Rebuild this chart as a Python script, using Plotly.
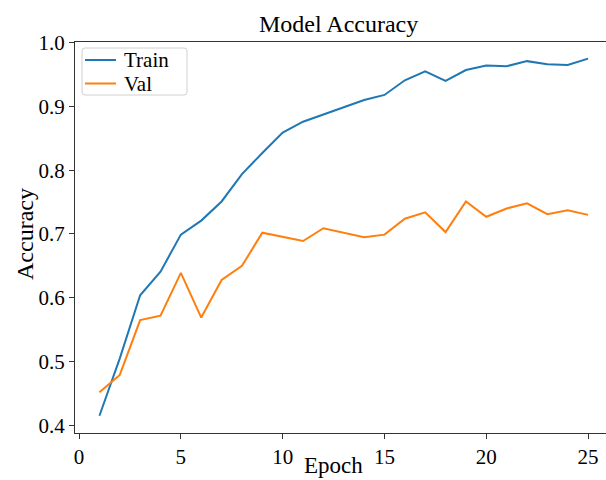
import plotly.graph_objects as go

epochs = list(range(1, 26))
train_acc = [0.415, 0.505, 0.604, 0.641, 0.699, 0.721, 0.751, 0.794, 0.827, 0.859,
             0.876, 0.887, 0.898, 0.910, 0.918, 0.941, 0.955, 0.940, 0.957, 0.964,
             0.963, 0.971, 0.966, 0.965, 0.975]
val_acc = [0.452, 0.479, 0.565, 0.572, 0.639, 0.569, 0.628, 0.650, 0.702, 0.695,
           0.689, 0.709, 0.702, 0.695, 0.699, 0.724, 0.734, 0.703, 0.751, 0.727,
           0.740, 0.748, 0.731, 0.737, 0.730]
series_names = ["Train", "Val"]
series_colors = ["#1f77b4", "#ff7f0e"]
x_ticks = [0, 5, 10, 15, 20, 25]
y_ticks = [0.4, 0.5, 0.6, 0.7, 0.8, 0.9, 1.0]
y_tick_text = ["0.4", "0.5", "0.6", "0.7", "0.8", "0.9", "1.0"]

FONT = "Liberation Serif, Times New Roman, serif"

W, H = 606, 480
L, R, T, B = 75, 0, 42, 47
pw = W - L - R
ph = H - T - B


def px(xp):
    return (xp - L) / pw


def py(yp):
    return (H - B - yp) / ph


fig = go.Figure()
for name, ys, col in zip(series_names, [train_acc, val_acc], series_colors):
    fig.add_trace(go.Scatter(x=epochs, y=ys, mode="lines", name=name,
                             line=dict(color=col, width=2), showlegend=False))

# legend box (drawn to match matplotlib's compact legend)
lx0, lx1, ly0, ly1 = 82, 187, 48, 95
rr = 3
path = (f"M {px(lx0 + rr)},{py(ly0)} L {px(lx1 - rr)},{py(ly0)} "
        f"Q {px(lx1)},{py(ly0)} {px(lx1)},{py(ly0 + rr)} "
        f"L {px(lx1)},{py(ly1 - rr)} Q {px(lx1)},{py(ly1)} {px(lx1 - rr)},{py(ly1)} "
        f"L {px(lx0 + rr)},{py(ly1)} Q {px(lx0)},{py(ly1)} {px(lx0)},{py(ly1 - rr)} "
        f"L {px(lx0)},{py(ly0 + rr)} Q {px(lx0)},{py(ly0)} {px(lx0 + rr)},{py(ly0)} Z")
shapes = [dict(type="path", path=path, xref="paper", yref="paper",
               line=dict(color="#d0d0d0", width=1), fillcolor="rgba(255,255,255,0.8)",
               layer="above")]
annotations = []
row_y = [60, 83.5]
for name, col, yy in zip(series_names, series_colors, row_y):
    shapes.append(dict(type="line", xref="paper", yref="paper",
                       x0=px(85), x1=px(116), y0=py(yy), y1=py(yy),
                       line=dict(color=col, width=2), layer="above"))
    annotations.append(dict(text=name, xref="paper", yref="paper",
                            x=px(122), y=py(yy), xanchor="left", yanchor="middle",
                            height=20, showarrow=False,
                            font=dict(family=FONT, size=21, color="black")))

annotations += [
    dict(text="Model Accuracy", xref="paper", yref="paper",
         x=px(338), y=py(39), xanchor="center", yanchor="bottom",
         showarrow=False, font=dict(family=FONT, size=24, color="black")),
    dict(text="Epoch", xref="paper", yref="paper",
         x=px(333), y=py(480), xanchor="center", yanchor="bottom",
         showarrow=False, font=dict(family=FONT, size=23, color="black")),
    dict(text="Accuracy", xref="paper", yref="paper", textangle=-90,
         x=px(10), y=py(234), xanchor="left", yanchor="middle",
         showarrow=False, font=dict(family=FONT, size=24, color="black")),
]

fig.update_layout(
    width=W, height=H,
    margin=dict(l=L, r=R, t=T, b=B, pad=0),
    paper_bgcolor="white", plot_bgcolor="white",
    font=dict(family=FONT, size=21, color="black"),
    showlegend=False,
    xaxis=dict(range=[-0.2, 25.88], tickmode="array", tickvals=x_ticks,
               showgrid=False, zeroline=False, showline=True, linecolor="#333333",
               linewidth=1, mirror=True, ticks="outside", ticklen=5, tickcolor="#333333",
               tickfont=dict(family=FONT, size=21, color="black"), automargin=False),
    yaxis=dict(range=[0.388, 1.001], tickmode="array", tickvals=y_ticks, ticktext=y_tick_text,
               showgrid=False, zeroline=False, showline=True, linecolor="#333333",
               linewidth=1, mirror=False, ticks="outside", ticklen=5, tickcolor="#333333",
               tickfont=dict(family=FONT, size=21, color="black"), automargin=False),
    shapes=shapes,
    annotations=annotations,
)

fig.write_html("out.html", config={"displayModeBar": False},
               post_script="document.body.style.margin='0';document.body.style.overflow='hidden';")
